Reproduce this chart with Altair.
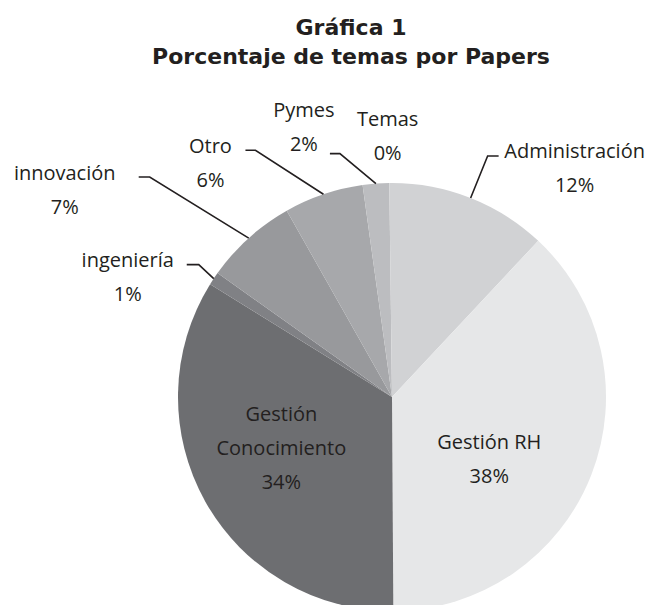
import math
import altair as alt
import pandas as pd

# ---- data ----
categories = ["Administración", "Gestión  RH", "Gestión Conocimiento", "ingeniería",
              "innovación", "Otro", "Pymes", "Temas"]
values = [12, 38, 34, 1, 7, 6, 2, 0.2]
pct_labels = ["12%", "38%", "34%", "1%", "7%", "6%", "2%", "0%"]
name_lines = [["Administración"], ["Gestión  RH"], ["Gestión", "Conocimiento"], ["ingeniería"],
              ["innovación"], ["Otro"], ["Pymes"], ["Temas"]]
colors = ["#d1d2d4", "#e6e7e8", "#6d6e71", "#808185", "#98999c", "#a7a8ab", "#bcbdc0", "#d1d2d4"]
title_lines = ["Gráfica 1", "Porcentaje de temas por Papers"]

# ---- layout (view pixel coords) ----
W, H = 646, 597
CX, CY, R = 384, 389, 214
FONT = "Open Sans"
FS = 20
LH = 34

# label block centre offset from the slice's edge anchor (mid-angle on rim)
label_off = {
    "Administración": (104, -29),
    "Gestión  RH": (-102, -15),
    "Gestión Conocimiento": (76, -53),
    "ingeniería": (-86, -1),
    "innovación": (-184, -47),
    "Otro": (-113, -30),
    "Pymes": (-72, -56),
    "Temas": (-3, -46),
}
# leader lines: elbow offset from anchor and horizontal tail length
leaders = {
    "Administración": ((17, -42), 11),
    "ingeniería": ((-15, -14), -12),
    "innovación": ((-99, -61), -11),
    "Otro": ((-68, -44), -10),
    "Pymes": ((-36, -30), -10),
}

total = sum(values)
cum = 0.0
anchors = {}
for c, v in zip(categories, values):
    mid = (cum + v / 2) / total * 2 * math.pi
    anchors[c] = (CX + R * math.sin(mid), CY - R * math.cos(mid))
    cum += v

pie_df = pd.DataFrame({"cat": categories, "val": values, "idx": list(range(len(categories)))})

text_rows = []
for c, lines, p in zip(categories, name_lines, pct_labels):
    ax, ay = anchors[c]
    ox, oy = label_off[c]
    allines = lines + [p]
    n = len(allines)
    for i, t in enumerate(allines):
        text_rows.append({"t": t, "x": ax + ox, "y": ay + oy + (i - (n - 1) / 2) * LH})
text_df = pd.DataFrame(text_rows)

line_rows = []
for c, ((ex, ey), tail) in leaders.items():
    ax, ay = anchors[c]
    pts = [(ax, ay), (ax + ex, ay + ey), (ax + ex + tail, ay + ey)]
    for k, (px, py) in enumerate(pts):
        line_rows.append({"cat": c, "k": k, "x": px, "y": py})
line_df = pd.DataFrame(line_rows)

title_df = pd.DataFrame({"t": title_lines, "x": [343, 343], "y": [20, 49]})

pie = alt.Chart(pie_df).mark_arc(outerRadius=R, stroke=None).encode(
    theta=alt.Theta("val:Q", stack=True),
    order=alt.Order("idx:Q"),
    color=alt.Color("cat:N", scale=alt.Scale(domain=categories, range=colors), legend=None),
    x=alt.value(CX),
    y=alt.value(CY),
)

lines = alt.Chart(line_df).mark_line(color="#231f20", strokeWidth=1.6).encode(
    x=alt.X("x:Q", scale=None),
    y=alt.Y("y:Q", scale=None),
    detail="cat:N",
    order="k:Q",
)

labels = alt.Chart(text_df).mark_text(font=FONT, fontSize=FS, color="#231f20",
                                      align="center", baseline="middle").encode(
    x=alt.X("x:Q", scale=None),
    y=alt.Y("y:Q", scale=None),
    text="t:N",
)

title = alt.Chart(title_df).mark_text(font="DejaVu Sans", fontSize=22, fontWeight="bold",
                                      color="#231f20", align="center", baseline="middle").encode(
    x=alt.X("x:Q", scale=None),
    y=alt.Y("y:Q", scale=None),
    text="t:N",
)

chart = alt.layer(pie, lines, labels, title).properties(
    width=W, height=H, padding=0, autosize=alt.AutoSizeParams(type="none"),
    background="white",
).configure_view(stroke=None)

chart.save("out.html", embed_options={"renderer": "svg", "actions": False})
